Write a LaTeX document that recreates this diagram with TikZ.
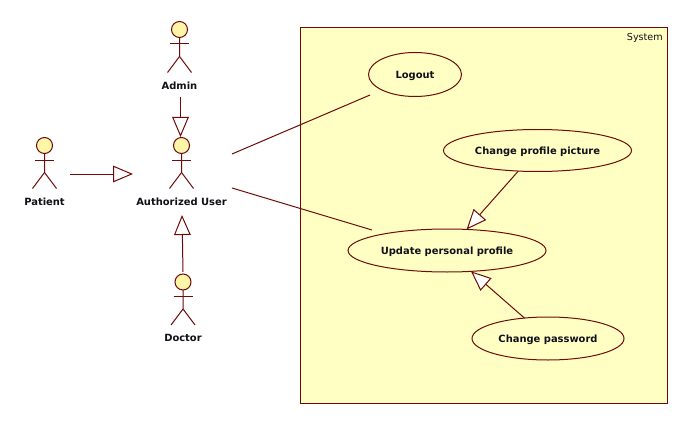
\documentclass[tikz,border=0pt]{standalone}
\usepackage{fontspec}
\setmainfont{DejaVu Sans}
\usetikzlibrary{arrows.meta,shapes.geometric,calc}
\definecolor{umlline}{HTML}{6E0A0A}
\definecolor{umlfill}{HTML}{FFFFC4}
\definecolor{headfill}{HTML}{FFF5A8}
\definecolor{umltext}{HTML}{101018}
\newcommand{\lblfont}{\fontsize{7.45pt}{9pt}\selectfont\bfseries\color{umltext}}
\tikzset{
  px/.style={x=0.75pt,y=-0.75pt},
  ln/.style={draw=umlline,line width=0.75pt},
  gen/.style={ln,-{Triangle[open,length=15pt,width=12.5pt,fill=white]}},
  assoc/.style={ln},
  uc/.style={ellipse,ln,fill=umlfill,inner sep=0pt,outer sep=0pt,font=\lblfont,text height=7pt,text depth=1.5pt},
  actorhead/.style={circle,ln,fill=headfill,minimum size=12pt,inner sep=0pt,outer sep=0pt},
  lbl/.style={font=\lblfont,inner sep=0pt},
}
\newcommand{\umlactor}[5]{% name, head x, head y, label, label y
  \node[actorhead] (#1) at (#2,#3) {};
  \draw[ln] (#1.south) -- ++(0,19) coordinate (#1hip)
    -- ++(-12,16);
  \draw[ln] (#1hip) -- ++(12,16);
  \draw[ln] ($(#1.south)+(-9.5,6.5)$) -- ++(19,0);
  \node[lbl] (#1l) at (#2,#5) {#4};
}
\begin{document}
\begin{tikzpicture}[px]
\useasboundingbox (0,0) rectangle (688,424);
\fill[white] (0,0) rectangle (688,424);
\node[ln,fill=umlfill,minimum width=275pt,minimum height=281.25pt,inner sep=0pt,outer sep=0pt,anchor=north west] (sys) at (300.5,28) {};
\node[font=\fontsize{7.2pt}{9pt}\selectfont\color{umltext},anchor=north east,inner sep=0pt] (syslabel) at (663,33) {System};
\umlactor{admin}{179.5}{29.5}{Admin}{86}
\umlactor{auth}{181.5}{145.5}{Authorized User}{202}
\umlactor{patient}{44.5}{145.5}{Patient}{202}
\umlactor{doctor}{183}{282}{Doctor}{338}
\node[uc,minimum width=69.75pt,minimum height=33pt] (logout) at (415,74.5) {Logout};
\node[uc,minimum width=141pt,minimum height=31.5pt] (pic) at (537.5,150.5) {Change profile picture};
\node[uc,minimum width=148.5pt,minimum height=32.25pt] (upd) at (447,250.5) {Update personal profile};
\node[uc,minimum width=114pt,minimum height=32.25pt] (pw) at (548,338.5) {Change password};
\coordinate (authr1) at (232,154);
\coordinate (authr2) at (232,188);
\coordinate (patr) at (70,174);
\coordinate (authl) at (133,174);
\coordinate (admb) at (180.5,97);
\coordinate (autht) at (180.5,137);
\coordinate (docb) at (183,272);
\coordinate (authb) at (182,215);
\coordinate (logoutend) at (370,95);
\coordinate (updend) at (372,230);
\draw[gen] (admb) -- (autht);
\draw[gen] (patr) -- (authl);
\draw[gen] (docb) -- (authb);
\draw[assoc] (authr1) -- (logoutend);
\draw[assoc] (authr2) -- (updend);
\draw[gen] (pic.227) -- (upd.47);
\draw[gen] (pw.139) -- (upd.-41);
\end{tikzpicture}
\end{document}
